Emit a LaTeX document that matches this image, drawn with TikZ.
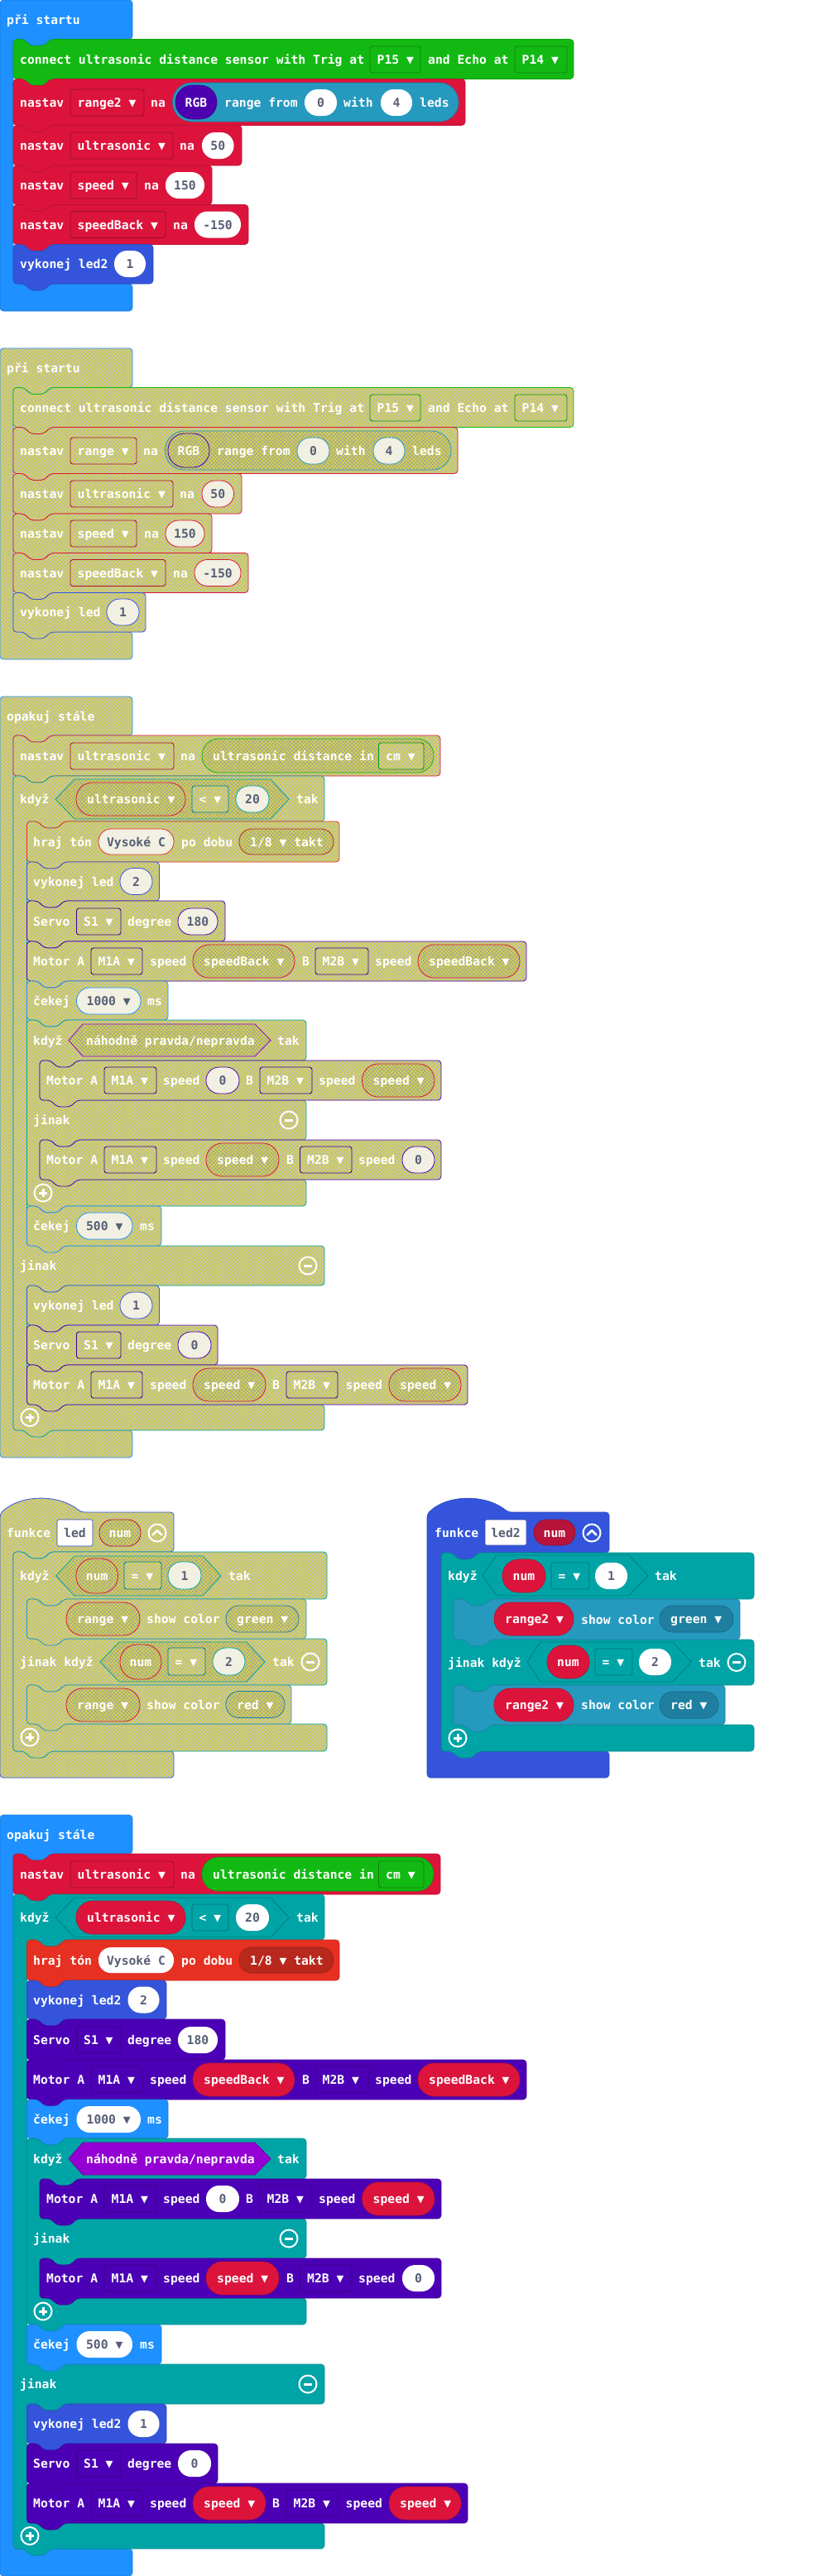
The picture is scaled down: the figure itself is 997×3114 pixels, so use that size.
\documentclass[tikz,border=0pt]{standalone}
\usepackage{fontspec}
\newfontfamily\mono{DejaVu Sans Mono}
\usepackage{tikz}
\usetikzlibrary{patterns.meta}

\definecolor{evc}{HTML}{1E90FF}
\definecolor{fnc}{HTML}{3455DB}
\definecolor{varc}{HTML}{DC143C}
\definecolor{numc}{HTML}{B8133A}
\definecolor{logc}{HTML}{00A4A6}
\definecolor{musc}{HTML}{E63022}
\definecolor{musd}{HTML}{B9281C}
\definecolor{sonc}{HTML}{12B912}
\definecolor{neoc}{HTML}{2699BF}
\definecolor{neod}{HTML}{1F7FA0}
\definecolor{rgbc}{HTML}{4C00B0}
\definecolor{motc}{HTML}{4B00B5}
\definecolor{matc}{HTML}{9400D3}
\definecolor{numtx}{HTML}{575E75}
\definecolor{dgray}{HTML}{B9B9B9}
\definecolor{dgray2}{HTML}{A6A69C}
\definecolor{dyel}{HTML}{DCDC38}
\definecolor{cream}{HTML}{F1F0E2}

\tikzset{
  lab/.style={font={\mono\bfseries\fontsize{14.7}{17}\selectfont}, text=white, anchor=base west, inner sep=0pt},
  dk/.style={font={\mono\bfseries\fontsize{14.7}{17}\selectfont}, text=numtx, anchor=base, inner sep=0pt},
  icon/.style={draw=white, line width=2pt},
  hatch/.style={preaction={fill=#1},
    preaction={pattern={Lines[angle=45,distance=3.2pt,line width=.7pt]}, pattern color=dyel},
    preaction={pattern={Lines[angle=-45,distance=3.2pt,line width=.7pt]}, pattern color=dyel}},
  hatch/.default=dgray,
  colored/.style={
    blk/.style={fill=##1, draw=##1!85!black, line width=.6pt, rounded corners=4pt},
    fld/.style={fill=##1, draw=##1!70!black, line width=.8pt, rounded corners=3pt},
    rep/.style={fill=##1, draw=##1!80!black, line width=.6pt},
    ovl/.style={fill=white},
    hexs/.style={fill=##1, draw=##1!75!black, line width=.8pt}},
  disabled/.style={
    blk/.style={hatch, draw=##1, line width=.8pt, rounded corners=4pt},
    fld/.style={hatch, draw=##1!80!black, line width=.9pt, rounded corners=3pt},
    rep/.style={hatch=dgray2, draw=##1, line width=.8pt},
    ovl/.style={fill=cream, draw=##1, line width=.8pt},
    hexs/.style={hatch=dgray2, draw=##1, line width=.8pt}},
}

\newcounter{nd}
\newcommand\stm[5]{\path[#1] (#2,#3) -- ++(13,0) -- ++(8,8) -- ++(16,0) -- ++(8,-8) -- (#4,#3) -- (#4,#5) -- ({#2+45},#5) -- ++(-8,8) -- ++(-16,0) -- ++(-8,-8) -- (#2,#5) -- cycle;}
\newcommand\ntop[3]{(#1,#2) -- ++(13,0) -- ++(8,8) -- ++(16,0) -- ++(8,-8) -- (#3,#2)}
\newcommand\ntab[2]{-- ({#1+45},#2) -- ++(-8,8) -- ++(-16,0) -- ++(-8,-8) -- (#1,#2)}
\newcommand\tx[3]{\stepcounter{nd}\node[lab] (n\arabic{nd}) at (#1,{#2+5.5}) {#3};}
\newcommand\field[6]{\path[fld=#1] (#2,#3) rectangle (#4,#5);
  \stepcounter{nd}\node[lab] (n\arabic{nd}) at ({#2+8.5},{(#3+#5)/2+5.5}) {#6};}
\newcommand\pill[6]{\path[rep=#1, rounded corners={(#5-#3)*0.49}] (#2,#3) rectangle (#4,#5);
  \stepcounter{nd}\node[lab] (n\arabic{nd}) at ({#2+13},{(#3+#5)/2+5.5}) {#6};}
\newcommand\pillc[6]{\path[rep=#1, rounded corners={(#5-#3)*0.49}] (#2,#3) rectangle (#4,#5);
  \stepcounter{nd}\node[lab, anchor=base] (n\arabic{nd}) at ({(#2+#4)/2},{(#3+#5)/2+5.5}) {#6};}
\newcommand\numov[6]{\path[ovl=#1, rounded corners={(#5-#3)*0.49}] (#2,#3) rectangle (#4,#5);
  \stepcounter{nd}\node[dk] (n\arabic{nd}) at ({(#2+#4)/2},{(#3+#5)/2+5.5}) {#6};}
\newcommand\namef[5]{\path[fill=white, draw=fnc!80!black, line width=.6pt, rounded corners=2pt] (#1,#2) rectangle (#3,#4);
  \stepcounter{nd}\node[dk] (n\arabic{nd}) at ({(#1+#3)/2},{(#2+#4)/2+5.5}) {#5};}
\newcommand\hexa[7]{\path[hexs=#1] (#2,{(#6+#7)/2}) -- (#3,#6) -- (#4,#6) -- (#5,{(#6+#7)/2}) -- (#4,#7) -- (#3,#7) -- cycle;}
\newcommand\icmin[2]{\draw[icon] (#1,#2) circle (10.5pt); \draw[icon, line width=3pt] ({#1-5},#2) -- ({#1+5},#2);}
\newcommand\icplus[2]{\draw[icon] (#1,#2) circle (10.5pt); \draw[icon, line width=3pt] ({#1-5},#2) -- ({#1+5},#2) (#1,{#2-5}) -- (#1,{#2+5});}
\newcommand\icup[2]{\draw[icon] (#1,#2) circle (10.5pt); \draw[icon, line width=2.5pt, line cap=round, line join=round] ({#1-5.5},{#2+2.5}) -- (#1,{#2-3}) -- ({#1+5.5},{#2+2.5});}

% pri startu: variable name, shift, led name, right edge, oval
\newcommand\startbody[6]{%
\path[blk=evc] (0,0) -- (160,0) -- (160,47.5) \ntab{16}{47.5} -- (16,343) -- (160,343) -- (160,376) -- (0,376) -- cycle;
\tx{8}{24}{při startu}
\stm{blk=sonc}{16}{47.5}{693}{95.5}
\tx{24}{71.5}{connect ultrasonic distance sensor with Trig at}
\field{sonc}{447}{56}{508}{88}{P15 ▼}
\tx{517}{71.5}{and Echo at}
\field{sonc}{622}{56}{685}{88}{P14 ▼}
\stm{blk=varc}{16}{95.5}{#2+562}{151.5}
\tx{24}{123.5}{nastav}
\field{varc}{85}{108}{#2+174}{140}{#1 ▼}
\tx{#2+182}{123.5}{na}
\pillc{neoc}{#2+208.5}{100}{#2+554}{147}{}
\pillc{rgbc}{#2+212}{103}{#2+262}{144}{RGB}
\tx{#2+271}{123.5}{range from}
\numov{neoc}{#2+368}{108}{#2+407}{140}{0}
\tx{#2+415}{123.5}{with}
\numov{neoc}{#2+460}{108}{#2+498}{140}{4}
\tx{#2+507}{123.5}{leds}
\stm{blk=varc}{16}{151.5}{292}{200}
\tx{24}{175.75}{nastav}
\field{varc}{85}{160}{209}{192}{ultrasonic ▼}
\tx{217}{175.75}{na}
\numov{varc}{244}{160}{282.5}{192}{50}
\stm{blk=varc}{16}{200}{256}{247.5}
\tx{24}{223.75}{nastav}
\field{varc}{85}{208}{165}{240}{speed ▼}
\tx{174}{223.75}{na}
\numov{varc}{200}{208}{247}{240}{150}
\stm{blk=varc}{16}{247.5}{300}{295.5}
\tx{24}{271.5}{nastav}
\field{varc}{85}{255.5}{200}{287.5}{speedBack ▼}
\tx{209}{271.5}{na}
\numov{varc}{235}{255.5}{291}{287.5}{-150}
\stm{blk=fnc}{16}{295.5}{#4}{343}
\tx{24}{319.25}{vykonej #3}
\numov{fnc}{#5}{303}{#6}{335}{1}}

% opakuj stale: led name, right edge, oval
\newcommand\loopbody[4]{%
\path[blk=evc] (0,842) -- (160,842) -- (160,889) \ntab{16}{889} -- (16,1729) -- (160,1729) -- (160,1762) -- (0,1762) -- cycle;
\tx{8}{866}{opakuj stále}
\stm{blk=varc}{16}{889}{532}{938}
\tx{24}{913.5}{nastav}
\field{varc}{85}{898}{210}{930}{ultrasonic ▼}
\tx{218}{913.5}{na}
\pill{sonc}{244}{893}{524}{934}{ultrasonic distance in}
\field{sonc}{457.5}{898}{512}{930}{cm ▼}
\path[blk=logc] \ntop{16}{938}{392} -- (392,993) \ntab{32.5}{993} -- (32.5,1506) -- (392,1506) -- (392,1554) \ntab{32.5}{1554} -- (32.5,1698) -- (392,1698) -- (392,1729) \ntab{16}{1729} -- cycle;
\tx{24}{965.5}{když}
\hexa{logc}{67}{90}{327}{349}{942}{990}
\pill{varc}{92}{946}{224}{986}{ultrasonic ▼}
\field{logc}{232}{950}{276}{982}{< ▼}
\numov{logc}{285}{950}{325}{982}{20}
\tx{358}{965.5}{tak}
\stm{blk=musc}{32.5}{993}{410}{1042}
\tx{40}{1017.5}{hraj tón}
\numov{musc}{119}{1002}{210}{1033}{Vysoké C}
\tx{219}{1017.5}{po dobu}
\pill{musd}{289}{1002}{403}{1033}{1/8 ▼ takt}
\stm{blk=fnc}{32.5}{1042}{#2}{1089}
\tx{40}{1065.5}{vykonej #1}
\numov{fnc}{#3}{1049.5}{#4}{1081.5}{2}
\stm{blk=motc}{32.5}{1089}{272}{1138}
\tx{40}{1113.5}{Servo}
\field{motc}{92.5}{1098}{146}{1130}{S1 ▼}
\tx{154}{1113.5}{degree}
\numov{motc}{215}{1098}{263}{1130}{180}
\stm{blk=motc}{32.5}{1138}{636}{1186}
\tx{40}{1162}{Motor A}
\field{motc}{110}{1146}{172}{1178}{M1A ▼}
\tx{181}{1162}{speed}
\pill{varc}{233}{1142}{356}{1182}{speedBack ▼}
\tx{365}{1162}{B}
\field{motc}{381}{1146}{445}{1178}{M2B ▼}
\tx{453}{1162}{speed}
\pill{varc}{505}{1142}{628}{1182}{speedBack ▼}
\stm{blk=evc}{32.5}{1186}{203}{1233}
\tx{40}{1209.5}{čekej}
\numov{evc}{92.5}{1194}{170}{1226}{1000 ▼}
\tx{178}{1209.5}{ms}
\path[blk=logc] \ntop{32.5}{1233}{370} -- (370,1282) \ntab{48}{1282} -- (48,1330) -- (370,1330) -- (370,1378) \ntab{48}{1378} -- (48,1426) -- (370,1426) -- (370,1458) \ntab{32.5}{1458} -- cycle;
\tx{40}{1257.5}{když}
\hexa{matc}{83}{100}{308}{327}{1238}{1277}
\tx{104}{1257.5}{náhodně pravda/nepravda}
\tx{335}{1257.5}{tak}
\stm{blk=motc}{48}{1282}{533}{1330}
\tx{56}{1306}{Motor A}
\field{motc}{126}{1290}{189}{1322}{M1A ▼}
\tx{197}{1306}{speed}
\numov{motc}{249}{1290}{289}{1322}{0}
\tx{297}{1306}{B}
\field{motc}{314}{1290}{377}{1322}{M2B ▼}
\tx{385}{1306}{speed}
\pill{varc}{437.5}{1286}{525}{1326}{speed ▼}
\tx{40}{1354}{jinak}
\icmin{349}{1354}
\stm{blk=motc}{48}{1378}{533}{1426}
\tx{56}{1402}{Motor A}
\field{motc}{126}{1386}{189}{1418}{M1A ▼}
\tx{197}{1402}{speed}
\pill{varc}{249}{1382}{337}{1422}{speed ▼}
\tx{346}{1402}{B}
\field{motc}{362.5}{1386}{425}{1418}{M2B ▼}
\tx{433}{1402}{speed}
\numov{motc}{486}{1386}{525}{1418}{0}
\icplus{52}{1442}
\stm{blk=evc}{32.5}{1458}{195}{1506}
\tx{40}{1482}{čekej}
\numov{evc}{92.5}{1466}{160}{1498}{500 ▼}
\tx{169}{1482}{ms}
\tx{24}{1530}{jinak}
\icmin{372}{1530}
\stm{blk=fnc}{32.5}{1554}{#2}{1602}
\tx{40}{1578}{vykonej #1}
\numov{fnc}{#3}{1562}{#4}{1594}{1}
\stm{blk=motc}{32.5}{1602}{263}{1650}
\tx{40}{1626}{Servo}
\field{motc}{92.5}{1610}{146}{1642}{S1 ▼}
\tx{154}{1626}{degree}
\numov{motc}{215}{1610}{255}{1642}{0}
\stm{blk=motc}{32.5}{1650}{565}{1698}
\tx{40}{1674}{Motor A}
\field{motc}{110}{1658}{172}{1690}{M1A ▼}
\tx{181}{1674}{speed}
\pill{varc}{233}{1654}{321}{1694}{speed ▼}
\tx{329}{1674}{B}
\field{motc}{346}{1658}{408}{1690}{M2B ▼}
\tx{417.5}{1674}{speed}
\pill{varc}{470}{1654}{557}{1694}{speed ▼}
\icplus{36}{1713.5}}

\begin{document}
\begin{tikzpicture}[x=1pt,y=-1pt]
\fill[white] (0,0) rectangle (997,3114);
\useasboundingbox (0,0) rectangle (997,3114);
% pri startu
\begin{scope}[colored]
\startbody{range2}{0}{led2}{185}{138}{176}
\end{scope}
\begin{scope}[disabled, yshift=-421pt]
\startbody{range}{-9}{led}{176}{129}{168}
\end{scope}
% opakuj stale
\begin{scope}[disabled]
\loopbody{led}{192.5}{145}{184}
\end{scope}
\begin{scope}[colored, yshift=-1352pt]
\loopbody{led2}{201}{154.5}{192.5}
\end{scope}
% funkce led
\begin{scope}[disabled]
\path[blk=fnc] (0,1830) .. controls (25,1806) and (71,1806) .. (98,1828) -- (210,1828) -- (210,1876) \ntab{16}{1876} -- (16,2117) -- (210,2117) -- (210,2149) -- (0,2149) -- cycle;
\tx{8}{1853}{funkce}
\namef{69}{1837}{112}{1869}{led}
\pillc{numc}{120}{1837}{170}{1869}{num}
\icup{190}{1853}
\path[blk=logc] \ntop{16}{1876}{395} -- (395,1933) \ntab{32.5}{1933} -- (32.5,1981) -- (395,1981) -- (395,2037) \ntab{32.5}{2037} -- (32.5,2084) -- (395,2084) -- (395,2117) \ntab{16}{2117} -- cycle;
\tx{24}{1904.5}{když}
\hexa{logc}{67.5}{90}{245}{267}{1881}{1929}
\pillc{varc}{92}{1884}{142.5}{1926}{num}
\field{logc}{150}{1888}{195}{1921}{= ▼}
\numov{logc}{203}{1888}{243}{1921}{1}
\tx{276}{1904.5}{tak}
\stm{blk=neoc}{32.5}{1933}{370}{1981}
\pill{varc}{80}{1937}{169}{1977}{range ▼}
\tx{177}{1957}{show color}
\pill{neod}{273}{1941}{361}{1973}{green ▼}
\tx{24}{2009}{jinak když}
\hexa{logc}{121}{144}{298}{320}{1985}{2033}
\pillc{varc}{145}{1988}{195}{2030}{num}
\field{logc}{203}{1992}{248}{2025}{= ▼}
\numov{logc}{257}{1992}{296}{2025}{2}
\tx{329}{2009}{tak}
\icmin{375}{2009}
\stm{blk=neoc}{32.5}{2037}{352}{2084}
\pill{varc}{80}{2041}{169}{2081}{range ▼}
\tx{177}{2060.5}{show color}
\pill{neod}{273}{2044.5}{344}{2076.5}{red ▼}
\icplus{36}{2100}
\end{scope}
% funkce led2
\begin{scope}[colored]
\path[blk=fnc] (516,1830) .. controls (541,1806) and (587,1806) .. (614,1828) -- (736,1828) -- (736,1877) \ntab{533}{1877} -- (533,2117) -- (736,2117) -- (736,2149) -- (516,2149) -- cycle;
\tx{525}{1853}{funkce}
\namef{586}{1837}{636}{1868}{led2}
\pillc{numc}{645}{1837}{695}{1868}{num}
\icup{715}{1853}
\path[blk=logc] \ntop{533}{1877}{911} -- (911,1933) \ntab{548}{1933} -- (548,1982) -- (911,1982) -- (911,2037) \ntab{548}{2037} -- (548,2085) -- (911,2085) -- (911,2117) \ntab{533}{2117} -- cycle;
\tx{541}{1905}{když}
\hexa{logc}{583}{600}{760}{783}{1880}{1929}
\pillc{varc}{607}{1885}{659}{1925}{num}
\field{logc}{666}{1889}{712}{1921}{= ▼}
\numov{logc}{719}{1889}{758}{1921}{1}
\tx{791}{1905}{tak}
\stm{blk=neoc}{548}{1933}{894}{1982}
\pill{varc}{597}{1937}{693}{1977}{range2 ▼}
\tx{702}{1957.5}{show color}
\pill{neod}{797}{1941}{886}{1973}{green ▼}
\tx{541}{2009.5}{jinak když}
\hexa{logc}{637}{653}{813}{835}{1985}{2033}
\pillc{varc}{661}{1989}{712}{2029}{num}
\field{logc}{719}{1993}{764}{2025}{= ▼}
\numov{logc}{772}{1993}{811}{2025}{2}
\tx{844}{2009.5}{tak}
\icmin{890}{2009.5}
\stm{blk=neoc}{548}{2037}{876}{2085}
\pill{varc}{597}{2041}{693}{2081}{range2 ▼}
\tx{702}{2061}{show color}
\pill{neod}{797}{2045}{868}{2077}{red ▼}
\icplus{553}{2101}
\end{scope}
\end{tikzpicture}
\end{document}
